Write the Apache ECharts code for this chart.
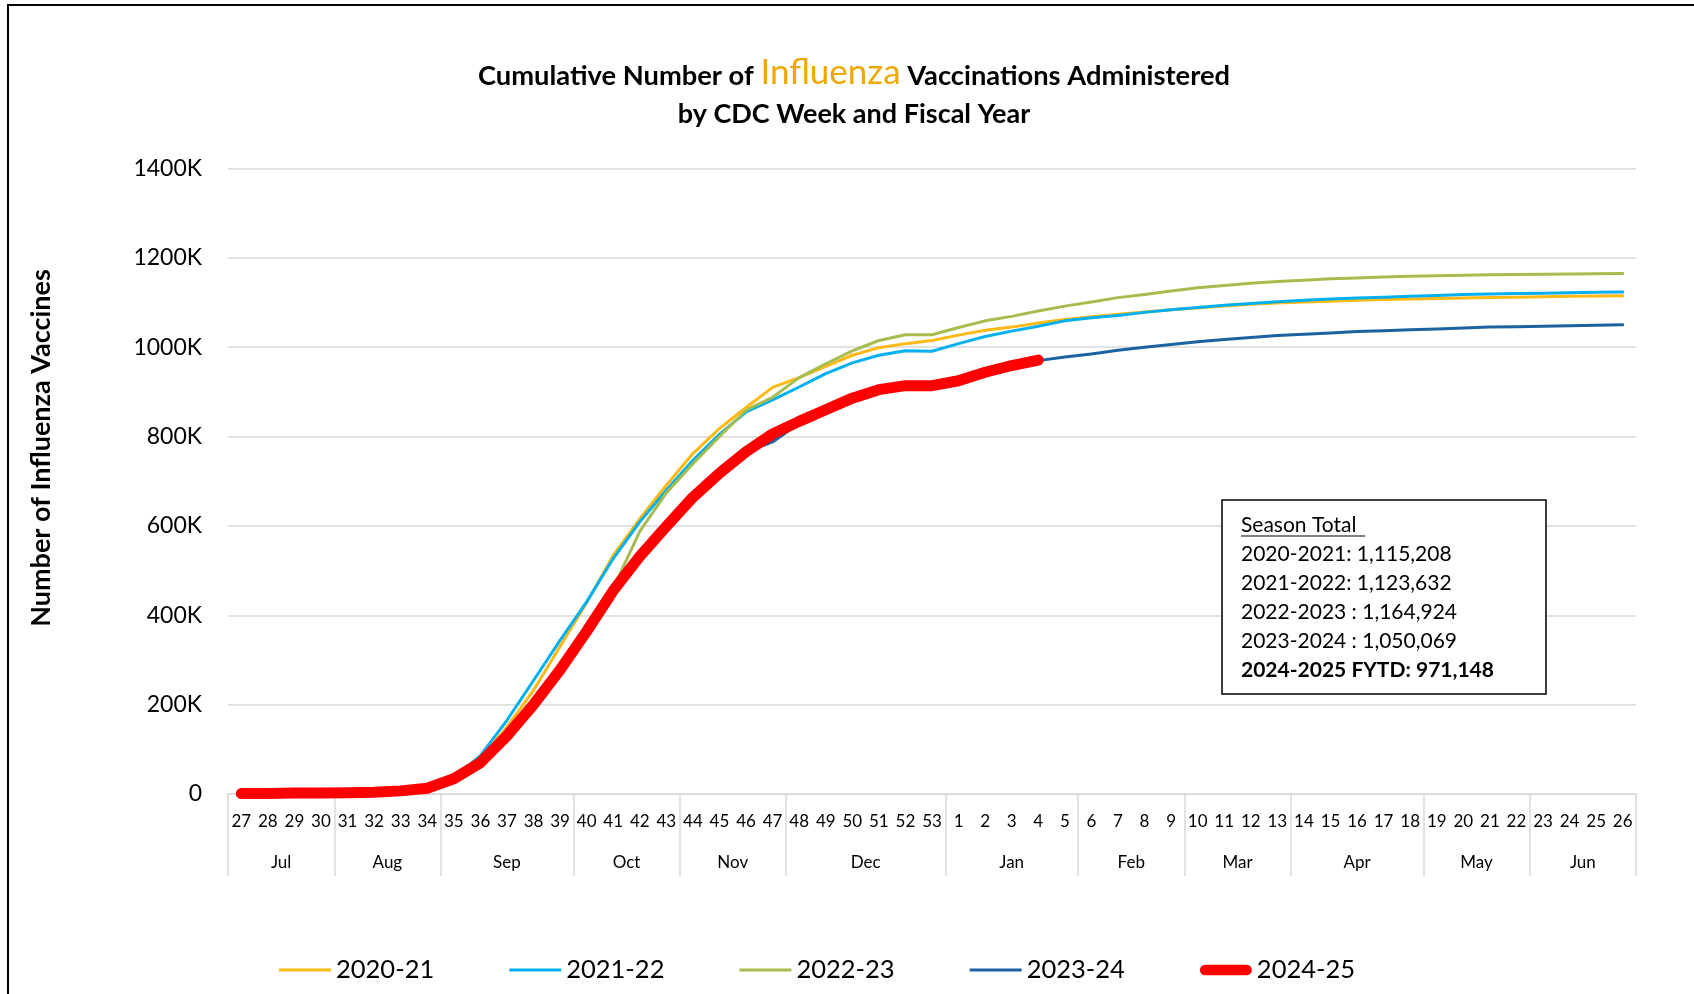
<!DOCTYPE html>
<html><head><meta charset="utf-8">
<script src="https://cdn.jsdelivr.net/npm/echarts@6/dist/echarts.min.js"></script>
<style>html,body{margin:0;padding:0;background:#fff}#c{width:1694px;height:994px}</style>
</head><body><div id="c"></div>
<script>
// ---------- DATA (values in thousands) ----------
const weeks = ['27','28','29','30','31','32','33','34','35','36','37','38','39','40','41','42','43','44','45','46','47','48','49','50','51','52','53',
  '1','2','3','4','5','6','7','8','9','10','11','12','13','14','15','16','17','18','19','20','21','22','23','24','25','26'];
const monthNames = ['Jul','Aug','Sep','Oct','Nov','Dec','Jan','Feb','Mar','Apr','May','Jun'];
const monthWeeks = [4,4,5,4,4,6,5,4,4,5,4,4];
const seriesNames = ['2020-21','2021-22','2022-23','2023-24','2024-25'];
const yTicks = {min:0, max:1400, step:200};

const s2020_21 = [0.5,1,1.5,2,2.5,3.5,5,12,33,78,150,232,330,428,534,616,691,762,818,865,910,932,957,982,999,1008,1015,
  1027,1038,1045,1054,1062,1068,1074,1079,1084,1088,1092,1096,1099,1101,1103,1105,1107,1108,1109,1110,1111,1112,1113,1114,1114.5,1115.2];
const s2021_22 = [0.5,1,1.5,2,2.5,3.5,5,13,36,86,165,254,344,430,527,609,680,747,805,855,882,911,941,965,982,992,991,
  1008,1024,1036,1047,1059,1066,1071,1078,1084,1089,1094,1098,1102,1105,1108,1110,1112,1114,1116,1118,1119,1120,1121,1122,1123,1123.6];
const s2022_23 = [0.5,1,1.5,2,2.5,3.5,5,12,33,72,135,205,282,368,460,588,674,739,800,859,888,932,963,992,1015,1028,1028,
  1044,1059,1069,1081,1092,1101,1111,1118,1126,1133,1138,1143,1147,1150,1153,1155,1157,1159,1160,1161,1162,1163,1163.5,1164,1164.5,1164.9];
const s2023_24 = [1,1,2,2,3,4,7,13,34,70,130,200,278,364,455,532,599,664,718,765,788,830,858,885,905,914,914,
  925,944,959,970,978,985,993,1000,1006,1012,1017,1022,1026,1029,1032,1035,1037,1039,1041,1043,1045,1046,1047,1048,1049,1050.1];
const s2024_25 = [1,1,2,2,3,4,7,13,34,70,130,200,278,364,455,532,599,664,718,766,806,834,860,886,905,914,914,
  925,944,959,971.1];

const seasonTitle = 'Season Total';
const seasonLines = ['2020-2021: 1,115,208','2021-2022: 1,123,632','2022-2023 : 1,164,924','2023-2024 : 1,050,069'];
const seasonBold = '2024-2025 FYTD: 971,148';

// ---------- STYLE ----------
const colors = ['#FFB915','#00B0F0','#A5BC4E','#1B63A0','#FF0000'];
const dataList = [s2020_21, s2021_22, s2022_23, s2023_24, s2024_25];
const F = 'Lato';

// month axis at half-week resolution
const monthCats = new Array(weeks.length*2+1).fill('');
const boundaries = new Set([0]);
let acc = 0;
monthWeeks.forEach((n,k)=>{ monthCats[acc*2+n] = monthNames[k]; acc += n; boundaries.add(acc*2); });

const thinPath = 'path://M0,0H50V3H0Z';
const redPath = 'path://M5,0H45A5,5,0,0,1,45,10H5A5,5,0,0,1,5,0Z';

const chart = echarts.init(document.getElementById('c'));
chart.setOption({
  animation:false,
  backgroundColor:'#fff',
  title:[
    {left:854, top:55, textAlign:'center', padding:0,
     text:'{a|Cumulative Number of }{o|Influenza}{a| Vaccinations Administered}',
     textStyle:{rich:{
       a:{fontFamily:F,fontWeight:'bold',fontSize:27.3,color:'#000',verticalAlign:'bottom'},
       o:{fontFamily:F,fontWeight:'normal',fontSize:35,color:'#F0A800',verticalAlign:'bottom'}}}},
    {left:854, top:101, textAlign:'center', padding:0, text:'by CDC Week and Fiscal Year',
     textStyle:{fontFamily:F,fontWeight:'bold',fontSize:27,color:'#000'}}
  ],
  legend:{
    left:274, top:952, itemWidth:52, itemHeight:12, itemGap:75,
    textStyle:{fontFamily:F,fontSize:25.5,color:'#000'},
    data: seriesNames.map((n,i)=>({name:n, icon: i===4 ? redPath : thinPath}))
  },
  grid:{left:228, right:58, top:168.5, bottom:200, containLabel:false},
  xAxis:[
    {type:'category', data:weeks, boundaryGap:true, position:'bottom',
     axisLine:{show:true, lineStyle:{color:'#d9d9d9', width:1.5}},
     axisTick:{show:false},
     axisLabel:{interval:0, margin:19, fontFamily:F, fontSize:17, color:'#000'}},
    {type:'category', data:monthCats, boundaryGap:false, position:'bottom',
     axisLine:{show:false},
     axisTick:{show:true, interval:(i)=>boundaries.has(i), length:82, lineStyle:{color:'#d9d9d9', width:1.5}},
     axisLabel:{interval:0, margin:60, fontFamily:F, fontSize:17, color:'#000'}}
  ],
  yAxis:{type:'value', min:yTicks.min, max:yTicks.max, interval:yTicks.step,
    axisLine:{show:false}, axisTick:{show:false},
    axisLabel:{formatter:v=> v===0 ? '0' : v+'K', fontFamily:F, fontSize:23, color:'#000', margin:26},
    splitLine:{lineStyle:{color:'#d9d9d9', width:1.5}}},
  series: seriesNames.map((n,i)=>({
    name:n, type:'line', data:dataList[i], xAxisIndex:0, symbol:'none', smooth:false,
    lineStyle:{width: i===4 ? 11 : 3, color:colors[i], cap:'round', join:'round'},
    itemStyle:{color:colors[i]}, z:2+i, emphasis:{disabled:true}
  })),
  graphic:[
    {type:'rect', shape:{x:8,y:5,width:1800,height:1800}, style:{fill:'none', stroke:'#000', lineWidth:2}, silent:true, z:-10},
    {type:'text', x:41, y:448, rotation:Math.PI/2,
     style:{text:'Number of Influenza Vaccines', fontFamily:F, fontWeight:'bold', fontSize:27, fill:'#000', align:'center', verticalAlign:'middle'}},
    {type:'group', x:1222, y:500, z:100, children:[
      {type:'rect', z:100, shape:{x:0,y:0,width:324,height:194}, style:{fill:'#fff', stroke:'#000', lineWidth:1.5}},
      {type:'text', z:101, x:19, y:10.5, style:{
        text: [seasonTitle].concat(seasonLines).join('\n') + '\n{b|' + seasonBold + '}',
        fontFamily:F, fontSize:21, lineHeight:29, fill:'#000',
        rich:{b:{fontFamily:F, fontWeight:'bold', fontSize:21, lineHeight:29, fill:'#000'}}}},
      {type:'line', z:101, shape:{x1:19, y1:36, x2:143, y2:36}, style:{stroke:'#000', lineWidth:1.2}}
    ]}
  ]
});
</script></body></html>
